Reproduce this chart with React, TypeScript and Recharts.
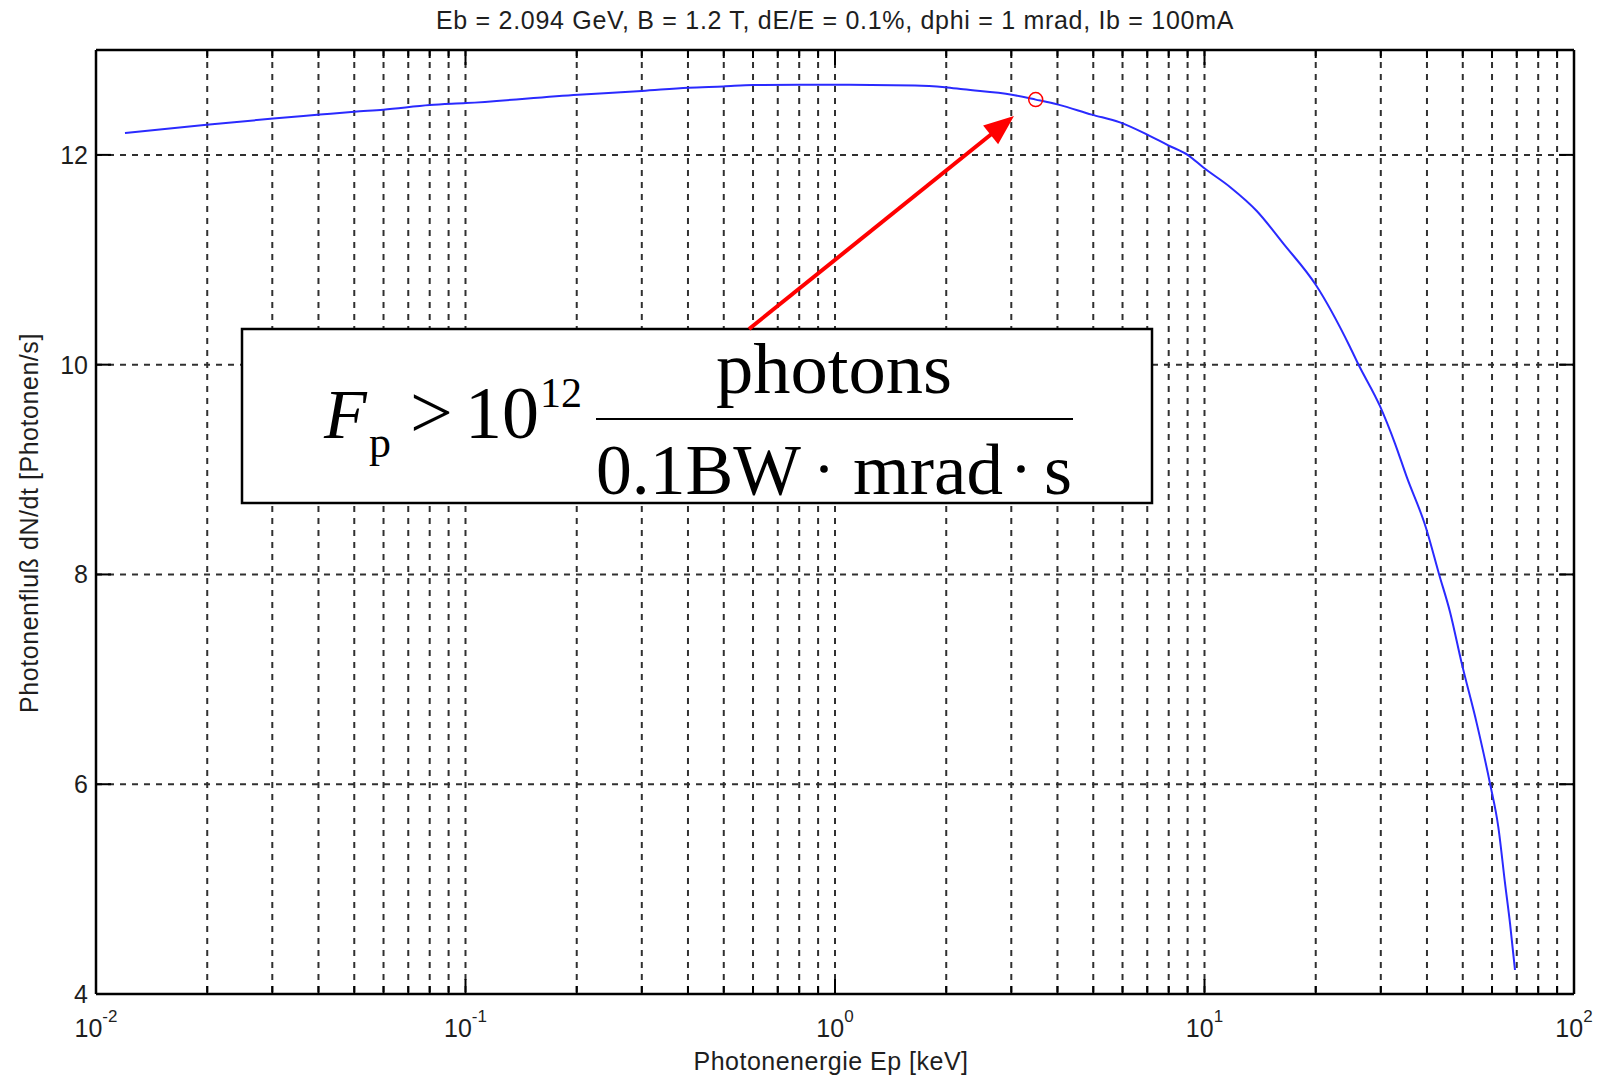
import React from 'react';
import { LineChart, Line, XAxis, YAxis, CartesianGrid, ReferenceLine, ReferenceDot } from 'recharts';

// ---- data ----
const energyKeV = [
  0.01198, 0.01993, 0.03018, 0.04038, 0.05, 0.0599, 0.0801, 0.1003, 0.2019, 0.2998,
  0.4009, 0.4985, 0.6009, 0.989, 1.646, 1.985, 2.225, 3.008, 3.493, 4.021,
  4.952, 5.905, 6.976, 7.98, 9.04, 9.93, 11.72, 13.85, 16.35, 20.04,
  24.76, 26.08, 29.85, 32.78, 35.26, 39.69, 43.21, 46.18, 49.68, 54.55,
  59.24, 62.39, 65.07, 67.12, 69.23,
];
const photonFlux = [
  12.208, 12.288, 12.346, 12.384, 12.412, 12.431, 12.475, 12.494, 12.574, 12.609,
  12.641, 12.653, 12.666, 12.668, 12.662, 12.645, 12.625, 12.574, 12.527, 12.479,
  12.384, 12.31, 12.196, 12.091, 11.996, 11.879, 11.694, 11.465, 11.154, 10.757,
  10.169, 10.004, 9.604, 9.248, 8.93, 8.453, 7.993, 7.643, 7.152, 6.58,
  6.008, 5.594, 5.055, 4.674, 4.229,
];
const xTicks = [
  0.01, 0.02, 0.03, 0.04, 0.05, 0.06, 0.07, 0.08, 0.09,
  0.1, 0.2, 0.3, 0.4, 0.5, 0.6, 0.7, 0.8, 0.9,
  1, 2, 3, 4, 5, 6, 7, 8, 9,
  10, 20, 30, 40, 50, 60, 70, 80, 90,
  100,
];
const yTicks = [4, 6, 8, 10, 12];
const xDomain = [0.01, 100];
const yDomain = [4, 13];
const markerPoint = { energy: 3.493, flux: 12.527 };

const titleText = 'Eb = 2.094 GeV, B = 1.2 T, dE/E = 0.1%, dphi = 1 mrad, Ib = 100mA';
const xLabelText = 'Photonenergie Ep [keV]';
const yLabelText = 'Photonenfluß dN/dt [Photonen/s]';

const chartData = energyKeV.map((e, i) => ({ energy: e, flux: photonFlux[i] }));

// ---- layout ----
const W = 1603;
const H = 1079;
const AX_W = 1;
const AX_H = 1;
const M = { top: 50, right: 29, bottom: 85 - AX_H, left: 96 - AX_W };
const PLOT_W = W - 96 - M.right;
const PLOT_H = H - M.top - 85;
const SANS = '"Liberation Sans", Arial, Helvetica, sans-serif';
const SERIF = '"Liberation Serif", "Times New Roman", serif';
const TXT = '#1e1e1e';

const XTick = (props: any) => {
  const { x, y, payload } = props;
  const v = payload.value as number;
  const lg = Math.log10(v);
  const exp = Math.round(lg);
  const major = Math.abs(lg - exp) < 1e-6;
  const len = major ? 15 : 8;
  return (
    <g>
      <line x1={x} y1={y} x2={x} y2={y - len} stroke="#000" strokeWidth={2} />
      <line x1={x} y1={y - PLOT_H} x2={x} y2={y - PLOT_H + len} stroke="#000" strokeWidth={2} />
      {major && (
        <text x={x} y={y + 43} textAnchor="middle" fontFamily={SANS} fontSize={25} fill={TXT}>
          <tspan>10</tspan>
          <tspan dy={-15} fontSize={17}>{String(exp)}</tspan>
        </text>
      )}
    </g>
  );
};

const YTick = (props: any) => {
  const { x, y, payload } = props;
  return (
    <g>
      <line x1={x} y1={y} x2={x + 15} y2={y} stroke="#000" strokeWidth={2} />
      <line x1={x + PLOT_W} y1={y} x2={x + PLOT_W - 15} y2={y} stroke="#000" strokeWidth={2} />
      <text x={x - 8} y={y} dy="0.36em" textAnchor="end" fontFamily={SANS} fontSize={25} fill={TXT}>
        {String(payload.value)}
      </text>
    </g>
  );
};

const Overlay = () => {
  const sx = 749, sy = 329, tx = 1014, ty = 116;
  const dx = tx - sx, dy = ty - sy;
  const L = Math.hypot(dx, dy);
  const ux = dx / L, uy = dy / L;
  const hl = 30, hw = 12;
  const bx = tx - ux * hl, by = ty - uy * hl;
  const px = -uy, py = ux;
  const head = `${tx},${ty} ${bx + px * hw},${by + py * hw} ${bx - px * hw},${by - py * hw}`;
  return (
    <svg width={W} height={H} style={{ position: 'absolute', left: 0, top: 0, pointerEvents: 'none' }}>
      <text x={96 + PLOT_W / 2} y={29} textAnchor="middle" fontFamily={SANS} fontSize={25} letterSpacing={0.7} fill={TXT}>
        {titleText}
      </text>
      <text x={96 + PLOT_W / 2 - 4} y={1070} textAnchor="middle" fontFamily={SANS} fontSize={25} letterSpacing={0.5} fill={TXT}>
        {xLabelText}
      </text>
      <text
        x={38}
        y={523}
        textAnchor="middle"
        fontFamily={SANS}
        fontSize={25}
        letterSpacing={0.55}
        fill={TXT}
        transform="rotate(-90, 38, 523)"
      >
        {yLabelText}
      </text>

      <rect x={242} y={329} width={910} height={174} fill="#fff" stroke="#000" strokeWidth={2.5} />
      <g fontFamily={SERIF} fill="#000">
        <text x={324} y={438} fontSize={70} fontStyle="italic">F</text>
        <text x={369} y={457} fontSize={44}>p</text>
        <text x={410} y={438} fontSize={76}>&gt;</text>
        <text x={465} y={438} fontSize={74}>10</text>
        <text x={540} y={407} fontSize={42}>12</text>
        <text x={716} y={393} fontSize={72} textLength={236} lengthAdjust="spacingAndGlyphs">photons</text>
        <line x1={596} y1={419} x2={1073} y2={419} stroke="#000" strokeWidth={2} />
        <text x={596} y={494} fontSize={72} textLength={205} lengthAdjust="spacingAndGlyphs">0.1BW</text>
        <circle cx={824} cy={469} r={3.8} fill="#000" />
        <text x={853} y={494} fontSize={72} textLength={150} lengthAdjust="spacingAndGlyphs">mrad</text>
        <circle cx={1021} cy={469} r={3.8} fill="#000" />
        <text x={1044} y={494} fontSize={72} textLength={28} lengthAdjust="spacingAndGlyphs">s</text>
      </g>

      <line x1={sx} y1={sy} x2={bx + ux * 2} y2={by + uy * 2} stroke="#ff0000" strokeWidth={4} />
      <polygon points={head} fill="#ff0000" />
    </svg>
  );
};

export default function App() {
  return (
    <div style={{ position: 'absolute', left: 0, top: 0, width: W, height: H, background: '#fff' }}>
      <LineChart width={W} height={H} data={chartData} margin={M}>
        <CartesianGrid stroke="#303030" strokeWidth={2} strokeDasharray="6 6" />
        <XAxis
          dataKey="energy"
          type="number"
          scale="log"
          domain={xDomain}
          allowDataOverflow
          ticks={xTicks}
          interval={0}
          height={AX_H}
          tickSize={0}
          tickMargin={0}
          tickLine={false}
          tick={<XTick />}
          axisLine={{ stroke: '#000', strokeWidth: 2.5 }}
        />
        <YAxis
          type="number"
          domain={yDomain}
          allowDataOverflow
          ticks={yTicks}
          interval={0}
          width={AX_W}
          tickSize={0}
          tickMargin={0}
          tickLine={false}
          tick={<YTick />}
          axisLine={{ stroke: '#000', strokeWidth: 2.5 }}
        />
        <ReferenceLine y={13} stroke="#000" strokeWidth={2.5} />
        <ReferenceLine x={100} stroke="#000" strokeWidth={2.5} />
        <Line
          dataKey="flux"
          type="monotone"
          stroke="#2a2aff"
          strokeWidth={2}
          dot={false}
          isAnimationActive={false}
        />
        <ReferenceDot
          x={markerPoint.energy}
          y={markerPoint.flux}
          r={7}
          fill="none"
          stroke="#ff0000"
          strokeWidth={1.5}
        />
      </LineChart>
      <Overlay />
    </div>
  );
}
